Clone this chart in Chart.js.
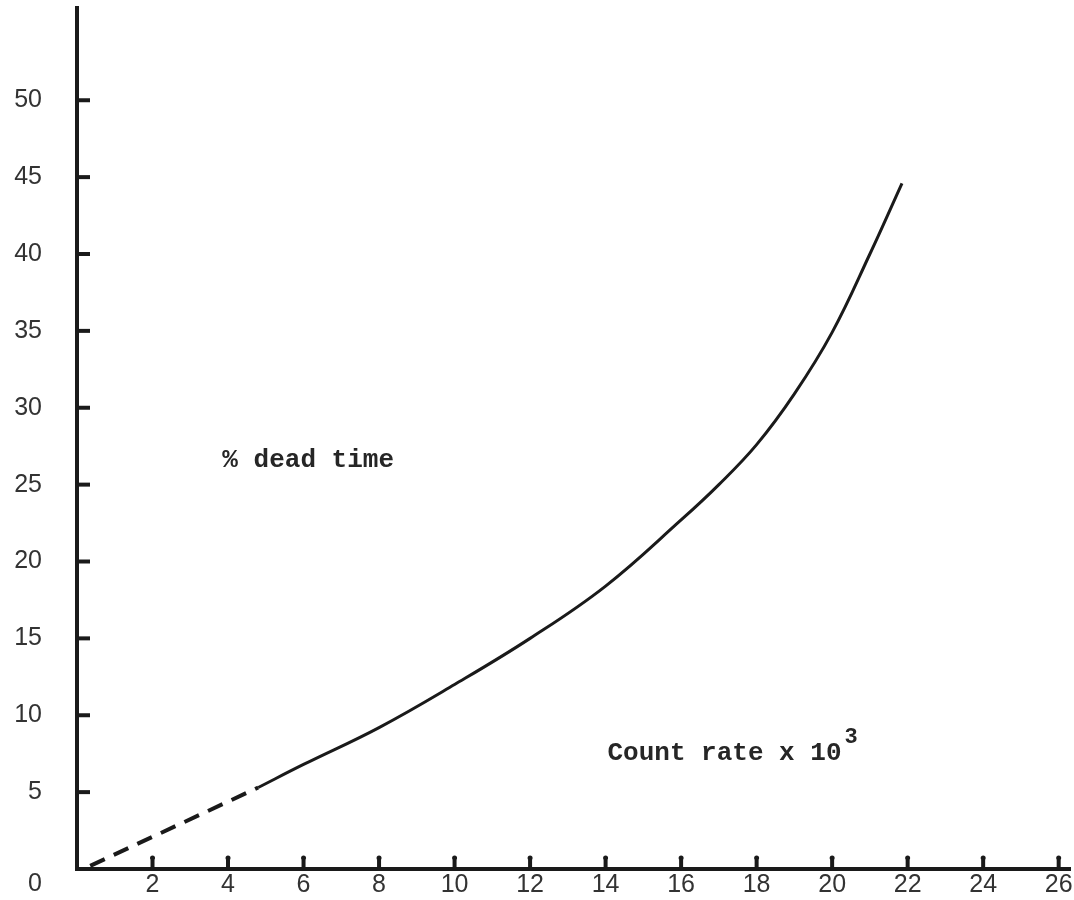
<!DOCTYPE html>
<html>
<head>
<meta charset="utf-8">
<script src="https://cdn.jsdelivr.net/npm/chart.js@4.4.1/dist/chart.umd.min.js"></script>
<style>
  html, body { margin: 0; padding: 0; background: #fff; }
  #wrap { width: 1074px; height: 900px; }
</style>
</head>
<body>
<div id="wrap"><canvas id="deadTimeChart" width="1074" height="900"></canvas></div>
<script>
// count rate (x 10^3) against percent dead time
const dashRate = [0.35, 4.8];
const dashDead = [0.2, 5.3];
const countRate = [4.8, 6, 8, 10, 12, 14, 16, 17, 18, 19, 20, 21, 21.85];
const deadTime = [5.3, 6.8, 9.2, 12.0, 15.0, 18.4, 22.7, 25.0, 27.6, 30.9, 34.9, 40.0, 44.6];

const xTicks = [2, 4, 6, 8, 10, 12, 14, 16, 18, 20, 22, 24, 26];
const yTicks = [0, 5, 10, 15, 20, 25, 30, 35, 40, 45, 50];

const ink = '#1a1a1a';
const tickFont = { family: '"Liberation Sans", Arial, sans-serif', size: 25, lineHeight: 1.2 };
const typeFont = 'bold 26px "Liberation Mono", "Courier New", monospace';

// drop the extra room Chart.js reserves for the outer tick labels
function fixBox(scale, key, size) {
  scale[key] = size;
  scale.paddingTop = 0;
  scale.paddingBottom = 0;
  scale.paddingLeft = 0;
  scale.paddingRight = 0;
}

// short tick stubs drawn on the inside of both axes, plus the typed labels
const innerTicks = {
  id: 'innerTicks',
  afterDraw(chart) {
    const { ctx, scales: { x, y } } = chart;
    ctx.save();
    ctx.strokeStyle = ink;
    ctx.fillStyle = ink;
    ctx.lineWidth = 4;
    yTicks.slice(1).forEach(v => {
      const py = y.getPixelForValue(v);
      ctx.beginPath();
      ctx.moveTo(x.left, py);
      ctx.lineTo(x.left + 13, py);
      ctx.stroke();
    });
    xTicks.forEach(v => {
      const px = x.getPixelForValue(v);
      ctx.beginPath();
      ctx.moveTo(px, y.bottom);
      ctx.lineTo(px, y.bottom - 9);
      ctx.stroke();
      ctx.beginPath();
      ctx.arc(px, y.bottom - 11, 2.5, 0, Math.PI * 2);
      ctx.fill();
    });

    ctx.fillStyle = '#262626';
    ctx.font = typeFont;
    ctx.textBaseline = 'middle';
    ctx.textAlign = 'left';
    ctx.fillText('% dead time', x.getPixelForValue(3.85), y.getPixelForValue(26.6));
    const cx = x.getPixelForValue(14.05);
    const cy = y.getPixelForValue(7.5);
    const main = 'Count rate x 10';
    ctx.fillText(main, cx, cy);
    const w = ctx.measureText(main).width;
    ctx.font = 'bold 22px "Liberation Mono", "Courier New", monospace';
    ctx.fillText('3', cx + w + 3, cy - 16);
    ctx.restore();
  }
};

new Chart(document.getElementById('deadTimeChart'), {
  type: 'line',
  data: {
    datasets: [
      {
        data: dashRate.map((r, i) => ({ x: r, y: dashDead[i] })),
        borderColor: ink,
        borderWidth: 4,
        borderDash: [16, 10],
        pointRadius: 0,
        fill: false
      },
      {
        data: countRate.map((r, i) => ({ x: r, y: deadTime[i] })),
        borderColor: ink,
        borderWidth: 3,
        pointRadius: 0,
        tension: 0.4,
        fill: false
      }
    ]
  },
  options: {
    responsive: false,
    animation: false,
    layout: { padding: { top: 8, right: 4, left: 0, bottom: 0 } },
    plugins: {
      legend: { display: false },
      tooltip: { enabled: false }
    },
    scales: {
      x: {
        type: 'linear',
        min: 0,
        max: 26.3,
        afterFit: scale => fixBox(scale, 'height', 31),
        afterBuildTicks: scale => { scale.ticks = xTicks.map(v => ({ value: v })); },
        grid: { display: true, drawOnChartArea: false, drawTicks: false },
        border: { display: true, color: ink, width: 4 },
        ticks: { color: '#333', font: tickFont, padding: 1, maxRotation: 0, autoSkip: false }
      },
      y: {
        type: 'linear',
        min: 0,
        max: 56,
        afterFit: scale => fixBox(scale, 'width', 77),
        afterBuildTicks: scale => { scale.ticks = yTicks.map(v => ({ value: v })); },
        grid: { display: true, drawOnChartArea: false, drawTicks: false },
        border: { display: true, color: ink, width: 4 },
        ticks: {
          color: '#333',
          font: tickFont,
          padding: 35,
          autoSkip: false,
          // the origin label sits a little below the axis line
          callback: v => (v === 0 ? ['', '0'] : String(v))
        }
      }
    }
  },
  plugins: [innerTicks]
});
</script>
</body>
</html>
